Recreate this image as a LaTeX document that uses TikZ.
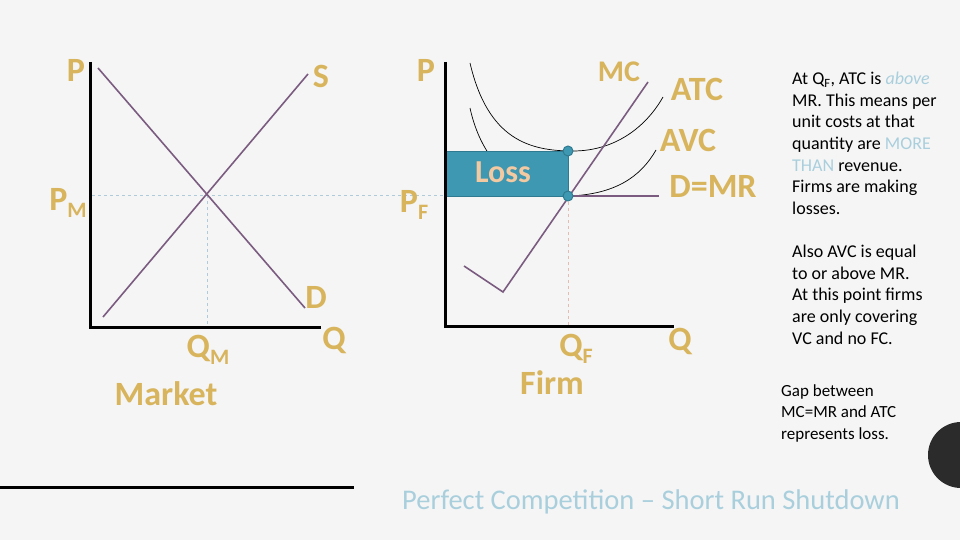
\documentclass[tikz,border=0pt]{standalone}
\usepackage{fontspec}
\setmainfont{Carlito}
\usepackage{xcolor}
\usetikzlibrary{positioning}
\definecolor{bgslide}{HTML}{F5F5F5}
\definecolor{goldlbl}{HTML}{D8B45C}
\definecolor{curvepurple}{HTML}{7B5C80}
\definecolor{lossfill}{HTML}{3E98B2}
\definecolor{lossedge}{HTML}{2F7A90}
\definecolor{losstext}{HTML}{F3C9A2}
\definecolor{guideblue}{HTML}{AFCBDA}
\definecolor{guidepink}{HTML}{E3BDB4}
\definecolor{titleblue}{HTML}{A9CFDD}
\definecolor{darkdot}{HTML}{2B2B2B}
\newcommand{\lowidx}[1]{\raisebox{-0.45ex}{\fontsize{22}{22}\selectfont #1}}

\begin{document}
\begin{tikzpicture}[
  x=1pt, y=-1pt,
  axis/.style={line width=3pt, black},
  curve/.style={line width=1.6pt, color=curvepurple},
  costcurve/.style={line width=0.7pt, black},
  guide/.style={dashed, line width=0.6pt},
  lbl/.style={font=\fontsize{34}{34}\selectfont\bfseries, text=goldlbl, inner sep=0pt},
  note/.style={font=\fontsize{18}{21.6}\selectfont, align=left, anchor=north west, inner sep=0pt},
  dotm/.style={circle, fill=lossfill, draw=lossedge, line width=1pt, minimum size=10pt, inner sep=0pt},
]

% background
\fill[bgslide] (0,0) rectangle (960,540);
\useasboundingbox (0,0) rectangle (960,540);

% ---------------- Market ----------------
\coordinate (mtop) at (90,62);
\coordinate (morigin) at (90,327);
\coordinate (mright) at (321,327);
\coordinate (dtop) at (98,68);
\coordinate (dbot) at (305,308);
\coordinate (sbot) at (103,317);
\coordinate (stop) at (308,74);
\coordinate (meq) at (207,195);
\coordinate (mqm) at (207,327);
\coordinate (mpm) at (92,195);

\draw[guide, guideblue] (mpm) -- (445,195) coordinate (fpf);
\draw[guide, guideblue] (meq) -- (mqm);
\draw[axis] (mtop) -- (morigin) -- (mright);
\draw[curve] (dtop) -- (dbot);
\draw[curve] (sbot) -- (stop);

\node[lbl] (mP) at (76,70) {P};
\node[lbl] (mS) at (321,76) {S};
\node[lbl] (mPM) at (68,203) {P\lowidx{M}};
\node[lbl] (mD) at (316,297) {D};
\node[lbl] (mQ) at (334,340) {Q};
\node[lbl] (mQM) at (208,350) {Q\lowidx{M}};
\node[lbl] (market) at (166,394) {Market};

% ---------------- Firm ----------------
\coordinate (ftop) at (445,62);
\coordinate (forigin) at (445,326);
\coordinate (fright) at (674,326);
\coordinate (qf) at (568,326);

% cost curves
\draw[costcurve] (470,63) .. controls (488,140) and (530,151) .. (573,151)
  .. controls (615,151) and (646,127) .. (663,97);
\draw[costcurve] (470,108) .. controls (484,172) and (528,197) .. (570,196)
  .. controls (614,194) and (640,178) .. (656,150);

% loss area
\node[draw=lossedge, fill=lossfill, line width=1.2pt, minimum width=123pt, minimum height=45pt,
      anchor=north west, inner sep=0pt] (loss) at (445,151) {};
\node[font=\fontsize{32}{32}\selectfont\bfseries, text=losstext] at (503,172) {Loss};

\draw[guide, guidepink] (568,196) -- (qf);
\draw[axis] (ftop) -- (forigin) -- (fright);

% MC and demand
\draw[curve] (464,266) -- (503,292) -- (648,82);
\draw[curve] (568,196) -- (659,196);

\node[dotm] (atcdot) at (568,151) {};
\node[dotm] (mrdot) at (568,196) {};

\node[lbl] (fP) at (426,70) {P};
\node[lbl] (fPF) at (414,205) {P\lowidx{F}};
\node[lbl, font=\fontsize{30}{30}\selectfont\bfseries] (fMC) at (619,72) {MC};
\node[lbl] (fATC) at (697,89) {ATC};
\node[lbl] (fAVC) at (688,140) {AVC};
\node[lbl] (fDMR) at (713,186) {D=MR};
\node[lbl] (fQ) at (680,341) {Q};
\node[lbl] (fQF) at (576,349) {Q\lowidx{F}};
\node[lbl] (firm) at (552,383) {Firm};

% ---------------- notes ----------------
\node[note] (note1) at (792,72) {At Q\textsubscript{F}, ATC is \textcolor{titleblue}{\itshape above}\\
MR. This means per\\
unit costs at that\\
quantity are \textcolor{titleblue}{MORE}\\
\textcolor{titleblue}{THAN} revenue.\\
Firms are making\\
losses.};
\node[note] (note2) at (792,245) {Also AVC is equal\\
to or above MR.\\
At this point firms\\
are only covering\\
VC and no FC.};
\node[note, font=\fontsize{17}{21.5}\selectfont] (note3) at (781,384) {Gap between\\
MC=MR and ATC\\
represents loss.};

% title and decoration
\node[font=\fontsize{28.5}{28.5}\selectfont, text=titleblue, anchor=west, inner sep=0pt] (title) at (402,502) {Perfect Competition -- Short Run Shutdown};
\coordinate (barl) at (0,487);
\coordinate (barr) at (354,487);
\draw[line width=3pt, black] (barl) -- (barr);
\fill[darkdot] (961,455) circle (33);

\end{tikzpicture}
\end{document}
